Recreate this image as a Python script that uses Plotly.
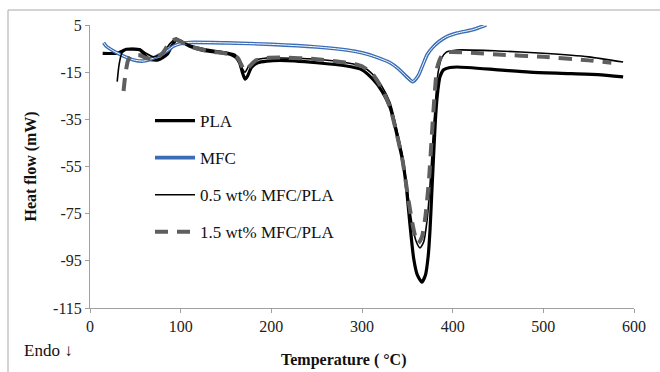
import plotly.graph_objects as go

# ---- data ----
pla_T = [14, 30, 36, 40, 55, 60, 65, 75, 85, 90, 95, 100, 110, 125, 150, 160, 165, 168, 171, 174, 178, 185, 195, 210, 250, 283, 300, 312, 322, 331, 340, 345, 349, 353, 357, 361, 366, 370, 373, 375, 377, 379, 381, 383, 386, 390, 397, 405, 450, 485, 520, 560, 588]
pla_Q = [-7, -7, -6, -5.3, -5.5, -7.5, -9.5, -9.8, -7.5, -4, -1.5, -2, -4, -5.8, -7, -8.5, -11, -15, -18, -16.5, -13, -11, -10.3, -10, -11, -12.4, -14, -18, -23, -30, -44, -53, -64, -80, -94, -101, -104, -101, -93, -82, -66, -50, -35, -25, -17, -14, -13, -12.8, -14, -15, -15.5, -16, -17]

mfc_T = [15, 18, 25, 37, 48, 59, 70, 80, 85, 92, 99, 110, 150, 200, 250, 283, 300, 315, 331, 340, 348, 356, 362, 367, 372, 378, 385, 393, 405, 422, 437]
mfc_Q = [-2.5, -4, -5.8, -8.2, -9.8, -10.3, -9, -7, -6, -4, -3, -2.4, -2.6, -3.2, -4.3, -5.6, -6.8, -8.5, -11, -13.5, -16.5, -19, -16.5, -12, -7.5, -4.5, -2, 0, 1.6, 3, 5]

m05_T = [30, 32, 35, 40, 55, 62, 70, 80, 88, 95, 100, 110, 125, 150, 160, 165, 168, 171, 175, 182, 195, 210, 250, 283, 300, 312, 322, 331, 340, 345, 350, 355, 360, 364, 368, 372, 375, 378, 381, 384, 388, 393, 405, 450, 500, 550, 588]
m05_Q = [-19, -12, -7, -5.2, -5.2, -7, -8.5, -7, -3, -0.5, -1.5, -3.5, -5, -6.5, -7.5, -10, -13.5, -15, -12.5, -10, -9, -9, -9.5, -11, -12.5, -16, -21, -28, -42, -51, -65, -79, -87, -89.5, -87, -77, -63, -45, -28, -15, -9, -6.5, -5.6, -6, -7, -8.5, -10.7]

m15_T = [37, 39, 42, 46, 55, 62, 72, 80, 87, 94, 100, 110, 130, 155, 163, 167, 171, 176, 183, 195, 210, 250, 283, 300, 312, 322, 331, 340, 345, 350, 355, 359, 362, 366, 370, 374, 377, 380, 383, 388, 395, 420, 450, 500, 550, 575]
m15_Q = [-23, -16, -10, -7.8, -7.8, -9, -9.5, -7, -3, -1, -2, -4, -6, -7.5, -9, -12, -14.5, -12.5, -10, -9, -8.8, -9.5, -11, -12.5, -16, -22, -30, -44, -53, -66, -78, -85, -87.5, -85, -76, -60, -42, -25, -13, -8, -6.5, -6.8, -7.5, -8.5, -10, -11]

x_ticks = [0, 100, 200, 300, 400, 500, 600]
y_ticks = [5, -15, -35, -55, -75, -95, -115]
names = ["PLA", "MFC", "0.5 wt% MFC/PLA", "1.5 wt% MFC/PLA"]

SERIF = "Liberation Serif"

fig = go.Figure()
fig.add_trace(go.Scatter(x=pla_T, y=pla_Q, mode="lines", name=names[0], legendgroup="a",
                         line=dict(color="#000000", width=3.2, shape="spline", smoothing=0.6)))
fig.add_trace(go.Scatter(x=mfc_T, y=mfc_Q, mode="lines", name=names[1], legendgroup="b",
                         line=dict(color="#3a6db5", width=3.6, shape="spline", smoothing=0.6)))
fig.add_trace(go.Scatter(x=mfc_T, y=mfc_Q, mode="lines", showlegend=False, legendgroup="b",
                         hoverinfo="skip",
                         line=dict(color="#ffffff", width=1.0, shape="spline", smoothing=0.6)))
fig.add_trace(go.Scatter(x=m05_T, y=m05_Q, mode="lines", name=names[2], legendgroup="c",
                         line=dict(color="#000000", width=1.6, shape="spline", smoothing=0.6)))
fig.add_trace(go.Scatter(x=m15_T, y=m15_Q, mode="lines", name=names[3], legendgroup="d",
                         line=dict(color="#5f5f5f", width=4, dash="13px,9px", shape="spline", smoothing=0.6)))

axis_common = dict(showgrid=False, zeroline=False, showline=True, linecolor="#a0a0a0", linewidth=1,
                   ticks="outside", ticklen=4, tickcolor="#a0a0a0",
                   tickfont=dict(family=SERIF, size=16, color="#222222"))

fig.update_xaxes(range=[0, 600], tickvals=x_ticks, ticktext=[str(v) for v in x_ticks], **axis_common)
fig.update_yaxes(range=[-115, 5], tickvals=y_ticks, ticktext=[str(v) for v in y_ticks], **axis_common)

fig.update_layout(
    width=660, height=372,
    margin=dict(l=90, r=26, t=25, b=64),
    paper_bgcolor="white", plot_bgcolor="white",
    font=dict(family=SERIF),
    showlegend=True,
    legend=dict(x=(150 - 90) / 544, y=(308 - 103) / 283, xanchor="left", yanchor="top",
                bgcolor="rgba(0,0,0,0)", tracegroupgap=12, itemwidth=40,
                font=dict(family=SERIF, size=17, color="#111111")),
    annotations=[
        dict(text="<b>Heat flow (mW)</b>", textangle=-90, xref="paper", yref="paper",
             x=(30 - 90) / 544, y=0.5, xanchor="center", yanchor="middle", showarrow=False,
             font=dict(family=SERIF, size=16, color="#111111")),
        dict(text="<b>Temperature ( °C)</b>", xref="paper", yref="paper",
             x=(343 - 90) / 544, y=-(360 - 308) / 283, xanchor="center", yanchor="middle", showarrow=False,
             font=dict(family=SERIF, size=16, color="#111111")),
        dict(text="Endo ↓", xref="paper", yref="paper",
             x=(22 - 90) / 544, y=-(350 - 308) / 283, xanchor="left", yanchor="middle", showarrow=False,
             font=dict(family=SERIF, size=17, color="#111111")),
    ],
    shapes=[dict(type="rect", xref="paper", yref="paper",
                 x0=(8 - 90) / 544, x1=(680 - 90) / 544, y0=-(400 - 308) / 283, y1=(308 - 10) / 283,
                 line=dict(color="#a8a8a8", width=1), fillcolor="rgba(0,0,0,0)", layer="below")],
)

fig.write_html("out.html")
